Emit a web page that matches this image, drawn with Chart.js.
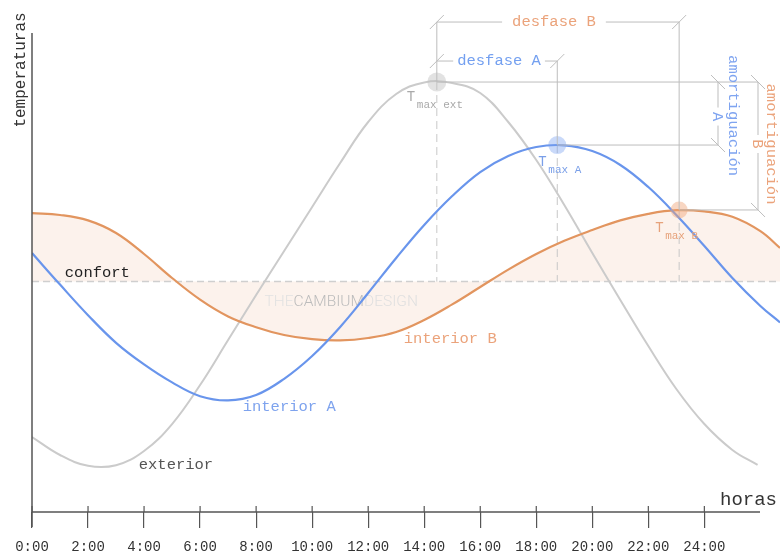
<!DOCTYPE html>
<html>
<head>
<meta charset="utf-8">
<script src="https://cdn.jsdelivr.net/npm/chart.js@4.4.1/dist/chart.umd.min.js"></script>
<style>
  html, body { margin: 0; padding: 0; background: #fff; }
</style>
</head>
<body>
<canvas id="grafico" width="780" height="552"></canvas>
<script>
// eje x: horas del dia
const horasTicks = [0, 2, 4, 6, 8, 10, 12, 14, 16, 18, 20, 22, 24];
const etiquetasHoras = ['0:00', '2:00', '4:00', '6:00', '8:00', '10:00', '12:00', '14:00', '16:00', '18:00', '20:00', '22:00', '24:00'];

// temperatura exterior
const horasExt = [0, 1, 2, 3, 4, 5, 6, 7, 8, 9, 10, 11, 12, 13, 14, 15, 16, 17, 18, 19, 20, 21, 22, 23, 24, 25, 25.9];
const tempExterior = [6.25, 4.75, 3.85, 3.9, 5.08, 7.33, 10.58, 14.33, 18.08, 21.75, 25.42, 29.08, 32.5, 34.83, 35.8, 35.75, 34.92, 32.5, 29.33, 25.58, 21.58, 17.67, 13.83, 10.25, 7.33, 5.17, 3.92];

// interior A
const horasA = [0, 1, 2, 3, 4, 5, 6, 7, 8, 9, 10, 11, 12, 13, 14, 15, 16, 17, 18, 19, 20, 21, 22, 23, 24, 25, 26, 26.7];
const tempInteriorA = [21.58, 18.95, 16.4, 14.1, 12.3, 10.8, 9.65, 9.3, 9.75, 11.1, 13.0, 15.42, 18.25, 21.17, 23.92, 26.33, 28.33, 29.67, 30.42, 30.56, 30.08, 28.92, 27.08, 24.75, 22.17, 19.5, 17.17, 15.8];

// interior B
const horasB = [0, 1, 2, 3, 4, 5, 6, 7, 8, 9, 10, 11, 12, 13, 14, 15, 16, 17, 18, 19, 20, 21, 22, 23, 24, 25, 26, 26.7];
const tempInteriorB = [24.9, 24.75, 24.3, 23.25, 21.5, 19.5, 17.7, 16.3, 15.4, 14.75, 14.4, 14.3, 14.5, 15.0, 16.0, 17.3, 18.75, 20.2, 21.5, 22.6, 23.5, 24.3, 24.85, 25.15, 25.05, 24.6, 23.4, 22.0];

// maximos: exterior, interior A, interior B
const picoHora = [14.45, 18.75, 23.1];
const picoTemp = [35.83, 30.58, 25.17];

const confort = 19.2;

const mono = "'Liberation Mono', 'DejaVu Sans Mono', monospace";
const azul = '#6995ec';
const naranja = '#e2955f';
const gris = '#cbcbcb';
const lineaCota = '#bdbdbd';

const datos = (hs, ts) => hs.map((h, i) => ({ x: h, y: ts[i] }));

const linea = (ctx, x1, y1, x2, y2) => {
    ctx.beginPath();
    ctx.moveTo(x1, y1);
    ctx.lineTo(x2, y2);
    ctx.stroke();
};

const texto = (ctx, str, x, y, color, size, align = 'left', rot = 0) => {
    ctx.save();
    ctx.translate(x, y);
    ctx.rotate(rot);
    ctx.font = `${size}px ${mono}`;
    ctx.fillStyle = color;
    ctx.textAlign = align;
    ctx.textBaseline = 'middle';
    ctx.fillText(str, 0, 0);
    ctx.restore();
};

const tmax = (ctx, x, y, sub, color) => {
    texto(ctx, 'T', x, y, color, 14);
    texto(ctx, sub, x + 10, y + 8, color, 11);
};

const anotaciones = {
    id: 'anotaciones',
    beforeDatasetsDraw(chart) {
        const { ctx, chartArea, scales: { x, y } } = chart;
        const yc = y.getPixelForValue(confort);
        ctx.save();

        // marca de agua
        ctx.font = "300 15.5px Roboto, 'Open Sans', sans-serif";
        ctx.textBaseline = 'middle';
        let wx = x.getPixelForValue(8.3);
        const wy = y.getPixelForValue(17.45);
        [['THE', '#e2e2e2'], ['CAMBIUM', '#bcbcbc'], ['DESIGN', '#e0e0e0']].forEach(([s, c]) => {
            ctx.fillStyle = c;
            ctx.fillText(s, wx, wy);
            wx += ctx.measureText(s).width;
        });

        // linea de confort
        ctx.strokeStyle = '#cfcfcf';
        ctx.lineWidth = 1.5;
        ctx.setLineDash([7, 4]);
        linea(ctx, chartArea.left, yc, chartArea.right, yc);

        // verticales discontinuas desde los maximos
        ctx.lineWidth = 1;
        ctx.setLineDash([8, 5]);
        ctx.strokeStyle = '#c8c8c8';
        picoHora.forEach((h, i) => {
            const px = x.getPixelForValue(h);
            linea(ctx, px, y.getPixelForValue(picoTemp[i]), px, yc);
        });
        ctx.restore();
    },
    afterDatasetsDraw(chart) {
        const { ctx, chartArea, scales: { x, y } } = chart;
        const E = { x: x.getPixelForValue(picoHora[0]), y: y.getPixelForValue(picoTemp[0]) };
        const A = { x: x.getPixelForValue(picoHora[1]), y: y.getPixelForValue(picoTemp[1]) };
        const B = { x: x.getPixelForValue(picoHora[2]), y: y.getPixelForValue(picoTemp[2]) };
        const yDB = E.y - 60;
        const yDA = E.y - 21;
        const xAmA = chartArea.right - 62;
        const xAmB = chartArea.right - 22;
        const x0 = x.getPixelForValue(0);
        const y0 = y.getPixelForValue(0);

        ctx.save();
        ctx.strokeStyle = lineaCota;
        ctx.lineWidth = 1;

        // verticales de cota
        linea(ctx, E.x, yDB, E.x, E.y);
        linea(ctx, A.x, yDA, A.x, A.y);
        linea(ctx, B.x, yDB, B.x, B.y);

        // horizontales desde los maximos
        linea(ctx, E.x, E.y, xAmB, E.y);
        linea(ctx, A.x, A.y, xAmA, A.y);
        linea(ctx, B.x, B.y, xAmB, B.y);

        ctx.font = `15.5px ${mono}`;
        // desfase B
        const mB = (E.x + B.x) / 2 - 4;
        const wB = ctx.measureText('desfase B').width / 2 + 10;
        linea(ctx, E.x, yDB, mB - wB, yDB);
        linea(ctx, mB + wB, yDB, B.x, yDB);
        // desfase A
        const mA = (E.x + A.x) / 2 + 2;
        const wA = ctx.measureText('desfase A').width / 2 + 4;
        linea(ctx, E.x, yDA, mA - wA, yDA);
        linea(ctx, mA + wA, yDA, A.x, yDA);
        // amortiguacion A y B
        const cA = (E.y + A.y) / 2 + 3;
        const cB = (E.y + B.y) / 2 - 2;
        linea(ctx, xAmA, E.y, xAmA, cA - 9);
        linea(ctx, xAmA, cA + 9, xAmA, A.y);
        linea(ctx, xAmB, E.y, xAmB, cB - 9);
        linea(ctx, xAmB, cB + 9, xAmB, B.y);

        // marcas oblicuas
        const s = 7;
        [[E.x, yDB], [B.x, yDB], [E.x, yDA], [A.x, yDA]].forEach(([px, py]) => linea(ctx, px - s, py + s, px + s, py - s));
        [[xAmA, E.y], [xAmA, A.y], [xAmB, E.y], [xAmB, B.y]].forEach(([px, py]) => linea(ctx, px - s, py - s, px + s, py + s));

        texto(ctx, 'desfase B', mB, yDB, '#eba37b', 15.5, 'center');
        texto(ctx, 'desfase A', mA, yDA, '#74a0f0', 15.5, 'center');
        texto(ctx, 'amortiguación', xAmA + 15, (E.y + A.y) / 2 + 2, '#7fa4f0', 15.5, 'center', Math.PI / 2);
        texto(ctx, 'A', xAmA - 1, cA, '#7fa4f0', 15.5, 'center', Math.PI / 2);
        texto(ctx, 'amortiguación', xAmB + 13, cB, '#eba37b', 15.5, 'center', Math.PI / 2);
        texto(ctx, 'B', xAmB - 1, cB, '#eba37b', 15.5, 'center', Math.PI / 2);

        // etiquetas de maximos
        tmax(ctx, E.x - 30, E.y + 15, 'max ext', '#a9a9a9');
        tmax(ctx, A.x - 19, A.y + 17, 'max A', '#7a9fe8');
        tmax(ctx, B.x - 24, B.y + 18, 'max B', '#e6a27b');

        // etiquetas de curvas
        texto(ctx, 'confort', x.getPixelForValue(1.17), y.getPixelForValue(19.9), '#222', 15.5);
        texto(ctx, 'interior B', x.getPixelForValue(13.27), y.getPixelForValue(14.4), '#eba37b', 15.5);
        texto(ctx, 'interior A', x.getPixelForValue(7.52), y.getPixelForValue(8.75), '#7ea3ee', 15.5);
        texto(ctx, 'exterior', x.getPixelForValue(3.81), y.getPixelForValue(3.9), '#555', 15.5);

        // ejes
        ctx.strokeStyle = '#555';
        ctx.lineWidth = 1.5;
        linea(ctx, x0, y0 + 15, x0, chartArea.top + 31);
        linea(ctx, x0, y0, chartArea.right - 20, y0);
        ctx.lineWidth = 1.2;
        horasTicks.forEach(h => {
            const px = x.getPixelForValue(h);
            linea(ctx, px, y0 - 6, px, y0);
        });
        texto(ctx, 'horas', chartArea.right - 60, y0 - 12, '#333', 19);
        texto(ctx, 'temperaturas', 21, 70, '#333', 16, 'center', -Math.PI / 2);
        ctx.restore();
    }
};

new Chart(document.getElementById('grafico'), {
    type: 'line',
    data: {
        datasets: [
            {
                label: 'maximos',
                type: 'scatter',
                data: datos(picoHora, picoTemp),
                pointRadius: [9.5, 9, 8.5],
                pointHoverRadius: [9.5, 9, 8.5],
                backgroundColor: ['rgba(190,190,190,0.45)', 'rgba(120,160,240,0.4)', 'rgba(240,165,120,0.45)'],
                borderWidth: 0,
                order: 0
            },
            {
                label: 'interior A',
                data: datos(horasA, tempInteriorA),
                borderColor: azul,
                borderWidth: 2.2,
                pointRadius: 0,
                tension: 0.4,
                fill: false,
                order: 1
            },
            {
                label: 'interior B',
                data: datos(horasB, tempInteriorB),
                borderColor: naranja,
                borderWidth: 2.2,
                pointRadius: 0,
                tension: 0.4,
                fill: { value: confort },
                backgroundColor: 'rgba(238,170,125,0.15)',
                order: 2
            },
            {
                label: 'exterior',
                data: datos(horasExt, tempExterior),
                borderColor: gris,
                borderWidth: 2,
                pointRadius: 0,
                tension: 0.4,
                fill: false,
                order: 3
            }
        ]
    },
    options: {
        animation: false,
        responsive: false,
        events: [],
        layout: { autoPadding: false, padding: { left: 32, top: 2, right: 0, bottom: 0 } },
        plugins: {
            legend: { display: false },
            tooltip: { enabled: false },
            filler: { drawTime: 'beforeDatasetsDraw' }
        },
        scales: {
            x: {
                type: 'linear',
                min: 0,
                max: 26.7,
                afterBuildTicks: (scale) => { scale.ticks = horasTicks.map(v => ({ value: v })); },
                afterFit: (scale) => { scale.height = 40; scale.paddingLeft = 0; scale.paddingRight = 0; },
                grid: { drawOnChartArea: false, drawTicks: true, tickLength: 16, color: '#555', lineWidth: 1.2 },
                border: { display: false },
                ticks: {
                    autoSkip: false,
                    maxRotation: 0,
                    padding: 11,
                    color: '#333',
                    font: { family: mono, size: 14 },
                    callback: (v, i) => etiquetasHoras[i]
                }
            },
            y: { display: false, min: 0, max: 42.5 }
        }
    },
    plugins: [anotaciones]
});
</script>
</body>
</html>
